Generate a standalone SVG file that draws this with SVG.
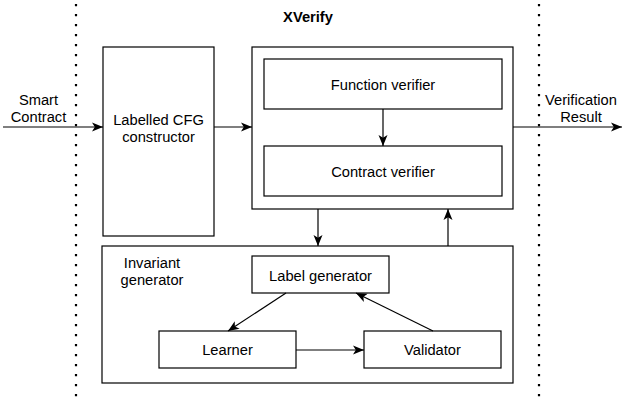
<svg xmlns="http://www.w3.org/2000/svg" width="623" height="400" viewBox="0 0 623 400">
<defs>
<style>
.box{fill:#fff;stroke:#000;stroke-width:1.2}
.t{font-family:"Liberation Sans",Arial,sans-serif;font-size:14.7px;fill:#000;text-anchor:middle}
.b{font-weight:bold}
.c{fill:none;stroke:#000;stroke-width:1.2}
.dot{fill:none;stroke:#000;stroke-width:2.2;stroke-dasharray:2.2 7.8}
</style>
<marker id="ah" markerUnits="userSpaceOnUse" markerWidth="14" markerHeight="14" viewBox="0 0 14 14" refX="11" refY="7" orient="auto">
<path d="M0,2.5 L11,7 L0,11.5 L2.8,7 Z" fill="#000"/>
</marker>
</defs>
<rect width="623" height="400" fill="#fff"/>
<line class="dot" x1="76" y1="4" x2="76" y2="400"/>
<line class="dot" x1="539" y1="4" x2="539" y2="400"/>
<text class="t b" x="308" y="22">XVerify</text>
<g id="cfg">
<rect class="box" x="103" y="47" width="111" height="189"/>
<text class="t" x="158.5" y="125">Labelled CFG</text>
<text class="t" x="158.5" y="142">constructor</text>
</g>
<g id="xverify">
<rect class="box" x="252" y="47" width="261" height="162"/>
</g>
<g id="function-verifier">
<rect class="box" x="264" y="59" width="238" height="50"/>
<text class="t" x="383" y="90">Function verifier</text>
</g>
<g id="contract-verifier">
<rect class="box" x="264" y="146" width="238" height="50"/>
<text class="t" x="383" y="177">Contract verifier</text>
</g>
<g id="invariant-generator">
<rect class="box" x="102" y="246" width="411" height="137"/>
<text class="t" x="152" y="268">Invariant</text>
<text class="t" x="152" y="285">generator</text>
</g>
<g id="label-generator">
<rect class="box" x="252" y="256" width="137" height="37"/>
<text class="t" x="320.5" y="281">Label generator</text>
</g>
<g id="learner">
<rect class="box" x="159" y="331" width="137" height="37"/>
<text class="t" x="227.5" y="355">Learner</text>
</g>
<g id="validator">
<rect class="box" x="364" y="331" width="137" height="37"/>
<text class="t" x="432.5" y="355">Validator</text>
</g>
<g id="inputs">
<text class="t" x="38.5" y="105">Smart</text>
<text class="t" x="38.5" y="122">Contract</text>
<text class="t" x="581" y="105">Verification</text>
<text class="t" x="581" y="122">Result</text>
</g>
<g id="connectors">
<line class="c" x1="3" y1="127" x2="103" y2="127" marker-end="url(#ah)"/>
<line class="c" x1="214" y1="127" x2="252" y2="127" marker-end="url(#ah)"/>
<line class="c" x1="513" y1="127" x2="622" y2="127" marker-end="url(#ah)"/>
<line class="c" x1="383" y1="109" x2="383" y2="146" marker-end="url(#ah)"/>
<line class="c" x1="318" y1="209" x2="318" y2="246" marker-end="url(#ah)"/>
<line class="c" x1="448" y1="246" x2="448" y2="209" marker-end="url(#ah)"/>
<line class="c" x1="286" y1="293" x2="228" y2="331" marker-end="url(#ah)"/>
<line class="c" x1="296" y1="350" x2="364" y2="350" marker-end="url(#ah)"/>
<line class="c" x1="433" y1="331" x2="356" y2="293" marker-end="url(#ah)"/>
</g>
</svg>
